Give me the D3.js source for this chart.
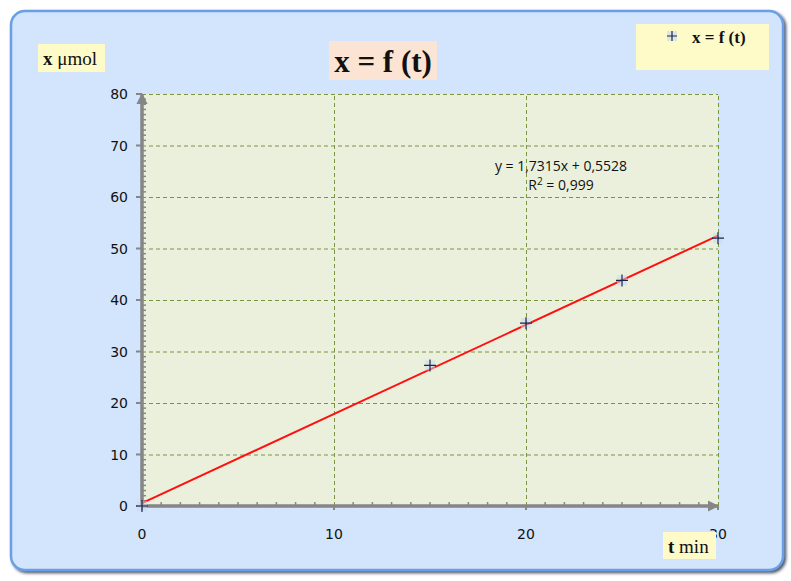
<!DOCTYPE html>
<html>
<head>
<meta charset="utf-8">
<script src="https://cdn.jsdelivr.net/npm/d3@7"></script>
<style>
  body { margin: 0; background: #fff; }
  svg { display: block; }
</style>
</head>
<body>
<svg id="chart"></svg>
<script>
// Data
const times = [0, 15, 20, 25, 30];
const amounts = [0, 27.3, 35.5, 43.8, 52];
const trend = { slope: 1.7315, intercept: 0.5528, r2: "0,999" };
const xTicks = [0, 10, 20, 30];
const yTicks = [0, 10, 20, 30, 40, 50, 60, 70, 80];

const width = 791, height = 581;
const svg = d3.select("#chart").attr("width", width).attr("height", height);

// Card background with rounded corners
const defs = svg.append("defs");
const shadow = defs.append("filter").attr("id", "shadow")
  .attr("x", "-5%").attr("y", "-5%").attr("width", "110%").attr("height", "110%");
shadow.append("feDropShadow").attr("dx", 2).attr("dy", 2)
  .attr("stdDeviation", 1.5).attr("flood-color", "#3a4658").attr("flood-opacity", 0.9);

svg.append("rect")
  .attr("x", 11).attr("y", 11).attr("width", 772).attr("height", 559)
  .attr("rx", 14)
  .attr("fill", "#d2e5fc")
  .attr("stroke", "#6a9fe6").attr("stroke-width", 2.5)
  .attr("filter", "url(#shadow)");

// Plot area
const margin = { left: 142, right: 718, top: 94, bottom: 506 };
const x = d3.scaleLinear().domain([0, 30]).range([margin.left, margin.right]);
const y = d3.scaleLinear().domain([0, 80]).range([margin.bottom, margin.top]);

svg.append("rect")
  .attr("x", x(0)).attr("y", y(80))
  .attr("width", x(30) - x(0)).attr("height", y(0) - y(80))
  .attr("fill", "#ebf0dc");

// Dashed grid lines
const grid = svg.append("g").attr("stroke", "#7a9440").attr("stroke-width", 1)
  .attr("stroke-dasharray", "4,3");
grid.selectAll(".hg").data(yTicks.slice(1)).enter().append("line")
  .attr("x1", x(0)).attr("x2", x(30))
  .attr("y1", d => y(d) + 0.5).attr("y2", d => y(d) + 0.5);
grid.selectAll(".vg").data(xTicks.slice(1)).enter().append("line")
  .attr("y1", y(0)).attr("y2", y(80))
  .attr("x1", d => x(d) + 0.5).attr("x2", d => x(d) + 0.5);

// Axes
const axisColor = "#868686";
const minorX = d3.range(1, 30).filter(d => d % 10 !== 0);
const minorY = d3.range(1, 80).filter(d => d % 10 !== 0);

// minor ticks (inside)
svg.append("g").selectAll("line").data(minorX).enter().append("line")
  .attr("x1", d => x(d)).attr("x2", d => x(d))
  .attr("y1", y(0) - 4).attr("y2", y(0))
  .attr("stroke", axisColor).attr("stroke-width", 1.5);
svg.append("g").selectAll("line").data(minorY).enter().append("line")
  .attr("y1", d => y(d)).attr("y2", d => y(d))
  .attr("x1", x(0)).attr("x2", x(0) + 4)
  .attr("stroke", axisColor).attr("stroke-width", 1.5);

// major ticks (outside)
svg.append("g").selectAll("line").data(xTicks).enter().append("line")
  .attr("x1", d => x(d)).attr("x2", d => x(d))
  .attr("y1", y(0)).attr("y2", y(0) + 4)
  .attr("stroke", axisColor).attr("stroke-width", 2);
svg.append("g").selectAll("line").data(yTicks).enter().append("line")
  .attr("y1", d => y(d)).attr("y2", d => y(d))
  .attr("x1", x(0) - 6).attr("x2", x(0))
  .attr("stroke", axisColor).attr("stroke-width", 2);

defs.append("marker").attr("id", "arrow")
  .attr("viewBox", "0 0 10 10").attr("refX", 9).attr("refY", 5)
  .attr("markerWidth", 3.2).attr("markerHeight", 3.2).attr("orient", "auto")
  .append("path").attr("d", "M0,0 L10,5 L0,10 z").attr("fill", axisColor);

svg.append("line")
  .attr("x1", x(0)).attr("x2", x(30)).attr("y1", y(0)).attr("y2", y(0))
  .attr("stroke", axisColor).attr("stroke-width", 3.5).attr("marker-end", "url(#arrow)");
svg.append("line")
  .attr("x1", x(0)).attr("x2", x(0)).attr("y1", y(0)).attr("y2", y(80))
  .attr("stroke", axisColor).attr("stroke-width", 3.5).attr("marker-end", "url(#arrow)");

// Tick labels
const tickFont = "'DejaVu Sans', Verdana, sans-serif";
svg.append("g").selectAll("text").data(yTicks).enter().append("text")
  .attr("x", x(0) - 14).attr("y", d => y(d)).attr("dy", "0.36em")
  .attr("text-anchor", "end")
  .style("font-family", tickFont).style("font-size", "14px").attr("fill", "#111")
  .text(d => d);
svg.append("g").selectAll("text").data(xTicks).enter().append("text")
  .attr("x", d => x(d)).attr("y", y(0) + 33)
  .attr("text-anchor", "middle")
  .style("font-family", tickFont).style("font-size", "14px").attr("fill", "#111")
  .text(d => d);

// Trend line
svg.append("line")
  .attr("x1", x(0)).attr("y1", y(trend.intercept))
  .attr("x2", x(30)).attr("y2", y(trend.slope * 30 + trend.intercept))
  .attr("stroke", "#ff1010").attr("stroke-width", 2);

// Data markers (plus signs)
const pts = svg.append("g").selectAll("g").data(times).enter().append("g")
  .attr("transform", (d, i) => `translate(${x(d)},${y(amounts[i])})`);
pts.append("rect").attr("x", -5).attr("y", -5).attr("width", 10).attr("height", 10)
  .attr("fill", "#c8d8f0").attr("opacity", 0.5);
pts.append("path").attr("d", "M-6,0 H6 M0,-6 V6")
  .attr("stroke", "#1a2650").attr("stroke-width", 1.2);

// Trendline equation
const eq = svg.append("text").attr("text-anchor", "middle")
  .style("font-family", "'Open Sans', sans-serif").style("font-size", "14px").attr("fill", "#111");
eq.append("tspan").attr("x", 561).attr("y", 171)
  .text(`y = ${String(trend.slope).replace(".", ",")}x + ${String(trend.intercept).replace(".", ",")}`);
const r2 = eq.append("tspan").attr("x", 561).attr("y", 190);
r2.append("tspan").text("R");
r2.append("tspan").attr("dy", -5).style("font-size", "10px").text("2");
r2.append("tspan").attr("dy", 5).text(" = " + trend.r2);

// Title box
const serif = "'Liberation Serif', 'Times New Roman', serif";
svg.append("rect").attr("x", 329).attr("y", 41).attr("width", 108).attr("height", 39)
  .attr("fill", "#fce4d4");
svg.append("text").attr("x", 383).attr("y", 72).attr("text-anchor", "middle")
  .style("font-family", serif).style("font-size", "31px").style("font-weight", "bold")
  .attr("fill", "#111").text("x = f (t)");

// Legend box
svg.append("rect").attr("x", 636).attr("y", 24).attr("width", 133).attr("height", 46)
  .attr("fill", "#fefbc9");
svg.append("rect").attr("x", 667).attr("y", 31).attr("width", 10).attr("height", 10)
  .attr("fill", "#c8d8f0").attr("opacity", 0.6);
svg.append("path").attr("d", "M667,36 H677 M672,31 V41")
  .attr("stroke", "#1a2650").attr("stroke-width", 1.2);
svg.append("text").attr("x", 692).attr("y", 43)
  .style("font-family", serif).style("font-size", "17px").style("font-weight", "bold")
  .attr("fill", "#111").text("x = f (t)");

// Axis title boxes
svg.append("rect").attr("x", 38).attr("y", 44).attr("width", 67).attr("height", 28)
  .attr("fill", "#fefbc9");
const yl = svg.append("text").attr("x", 43).attr("y", 65)
  .style("font-family", serif).style("font-size", "19px").attr("fill", "#111");
yl.append("tspan").style("font-weight", "bold").text("x");
yl.append("tspan").text(" μmol");

svg.append("rect").attr("x", 663).attr("y", 532).attr("width", 53).attr("height", 27)
  .attr("fill", "#fefbc9");
const xl = svg.append("text").attr("x", 668).attr("y", 553)
  .style("font-family", serif).style("font-size", "19px").attr("fill", "#111");
xl.append("tspan").style("font-weight", "bold").text("t");
xl.append("tspan").text(" min");
</script>
</body>
</html>
